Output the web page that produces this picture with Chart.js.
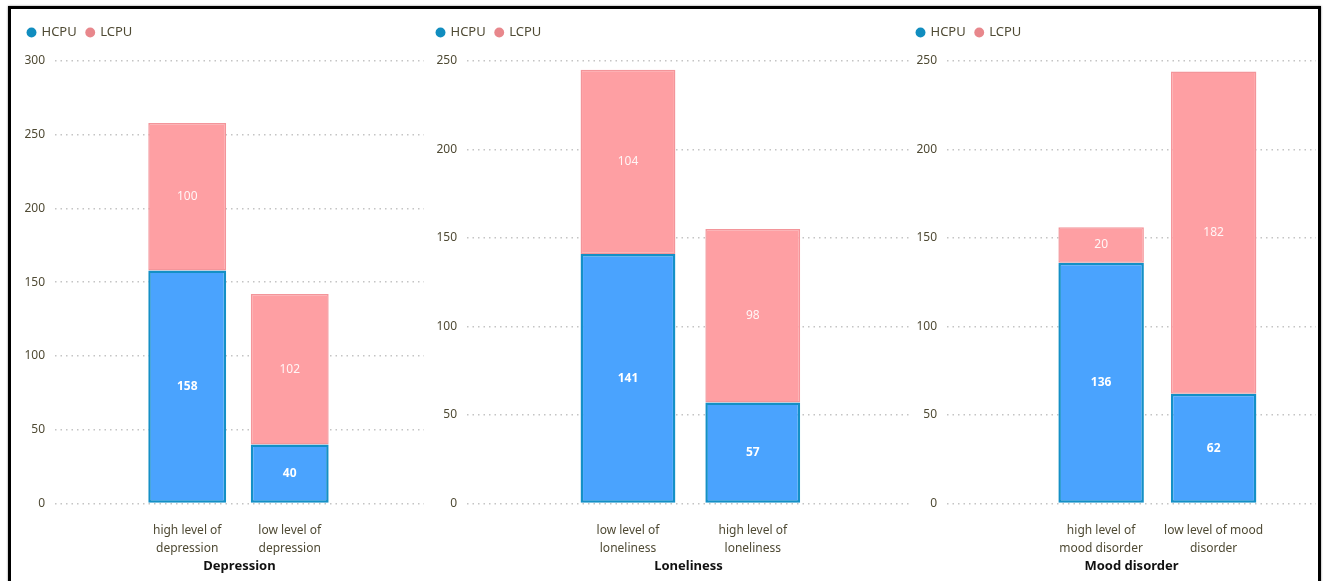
<!DOCTYPE html>
<html>
<head>
<meta charset="utf-8">
<script src="https://cdn.jsdelivr.net/npm/chart.js@4.4.1/dist/chart.umd.min.js"></script>
<style>
    body { margin: 0; background: #fff; width: 1325px; height: 581px; overflow: hidden; position: relative; }
    #frame { position: absolute; left: 8px; top: 6px; width: 1307px; height: 600px; border: 3px solid #000; box-shadow: 0 0 2px #888; }
    .panel { position: absolute; top: 12px; height: 569px; }
    #p1 { left: 18px; width: 408px; }
    #p2 { left: 427px; width: 485px; }
    #p3 { left: 907px; width: 411px; }
</style>
</head>
<body>
<div id="frame"></div>
<div class="panel" id="p1"><canvas id="chart1"></canvas></div>
<div class="panel" id="p2"><canvas id="chart2"></canvas></div>
<div class="panel" id="p3"><canvas id="chart3"></canvas></div>
<script>
const seriesNames = ['HCPU', 'LCPU'];

const depTitle = 'Depression';
const depCategories = [['high level of', 'depression'], ['low level of', 'depression']];
const depHCPU = [158, 40];
const depLCPU = [100, 102];
const depTicks = [0, 50, 100, 150, 200, 250, 300];

const lonTitle = 'Loneliness';
const lonCategories = [['low level of', 'loneliness'], ['high level of', 'loneliness']];
const lonHCPU = [141, 57];
const lonLCPU = [104, 98];
const lonTicks = [0, 50, 100, 150, 200, 250];

const moodTitle = 'Mood disorder';
const moodCategories = [['high level of', 'mood disorder'], ['low level of mood', 'disorder']];
const moodHCPU = [136, 62];
const moodLCPU = [20, 182];
const moodTicks = [0, 50, 100, 150, 200, 250];

const FONT = "'Noto Sans', 'DejaVu Sans', sans-serif";
const TEXT = '#4f4a34';

// draws the value in the middle of each stacked segment
const segmentLabels = {
    id: 'segmentLabels',
    afterDatasetsDraw(chart) {
        const ctx = chart.ctx;
        ctx.save();
        ctx.textAlign = 'center';
        ctx.textBaseline = 'middle';
        chart.data.datasets.forEach((ds, di) => {
            const meta = chart.getDatasetMeta(di);
            ctx.font = (di === 0 ? 'bold ' : '') + '12px ' + FONT;
            ctx.fillStyle = di === 0 ? '#ffffff' : 'rgba(255,255,255,0.9)';
            meta.data.forEach((bar, i) => {
                const p = bar.getProps(['x', 'y', 'base'], true);
                ctx.fillText(ds.data[i].y, p.x, (p.y + p.base) / 2);
            });
        });
        ctx.restore();
    }
};

// extra room between legend and plot
const legendGap = {
    id: 'legendGap',
    beforeInit(chart) {
        const fit = chart.legend.fit;
        chart.legend.fit = function () {
            fit.call(this);
            this.height += 12;
        };
    }
};

function makeChart(id, title, categories, hcpu, lcpu, ticks, xMin, xMax, yWidth) {
    const idx = categories.map((c, i) => i);
    new Chart(document.getElementById(id), {
        type: 'bar',
        data: {
            datasets: [{
                label: seriesNames[0],
                data: idx.map(i => ({ x: i, y: hcpu[i] })),
                backgroundColor: '#4aa3fe',
                borderColor: '#1490c6',
                borderWidth: 2.5,
                borderSkipped: false,
                barPercentage: 0.76,
                categoryPercentage: 1
            }, {
                label: seriesNames[1],
                data: idx.map(i => ({ x: i, y: lcpu[i] })),
                backgroundColor: '#fe9fa3',
                borderColor: '#f3959a',
                borderWidth: 1.5,
                borderSkipped: false,
                barPercentage: 0.76,
                categoryPercentage: 1
            }]
        },
        options: {
            responsive: true,
            maintainAspectRatio: false,
            animation: false,
            layout: { padding: { top: 4, right: 2, bottom: 0 } },
            plugins: {
                legend: {
                    align: 'start',
                    labels: {
                        usePointStyle: true,
                        pointStyle: 'circle',
                        boxWidth: 7,
                        boxHeight: 7,
                        padding: 10,
                        color: TEXT,
                        font: { family: FONT, size: 13 },
                        generateLabels: () => [
                            { text: seriesNames[0], fillStyle: '#118dbf', strokeStyle: '#118dbf', pointStyle: 'circle', lineWidth: 0, fontColor: TEXT },
                            { text: seriesNames[1], fillStyle: '#e8878c', strokeStyle: '#e8878c', pointStyle: 'circle', lineWidth: 0, fontColor: TEXT }
                        ]
                    }
                },
                tooltip: { enabled: false }
            },
            scales: {
                x: {
                    type: 'linear',
                    offset: false,
                    stacked: true,
                    min: xMin,
                    max: xMax,
                    afterBuildTicks: s => { s.ticks = idx.map(v => ({ value: v })); },
                    ticks: {
                        color: TEXT,
                        font: { family: FONT, size: 12, lineHeight: 1.5 },
                        padding: 10,
                        maxRotation: 0,
                        autoSkip: false,
                        callback: v => categories[v]
                    },
                    grid: { display: false },
                    border: { display: false },
                    title: {
                        display: true,
                        text: title,
                        color: '#111',
                        font: { family: FONT, size: 13, weight: 'bold' },
                        padding: { top: -9, bottom: 7 }
                    }
                },
                y: {
                    stacked: true,
                    min: 0,
                    max: ticks[ticks.length - 1],
                    afterBuildTicks: s => { s.ticks = ticks.map(v => ({ value: v })); },
                    afterFit: s => { s.width = yWidth; },
                    ticks: {
                        color: TEXT,
                        font: { family: FONT, size: 12 },
                        padding: 10
                    },
                    grid: {
                        color: '#c4c4c4',
                        lineWidth: 1.5,
                        drawTicks: false
                    },
                    border: { display: false, dash: [1.5, 4] }
                }
            }
        },
        plugins: [segmentLabels, legendGap]
    });
}

makeChart('chart1', depTitle, depCategories, depHCPU, depLCPU, depTicks, -1.29, 2.31, 37);
makeChart('chart2', lonTitle, lonCategories, lonHCPU, lonLCPU, lonTicks, -1.29, 2.26, 40);
makeChart('chart3', moodTitle, moodCategories, moodHCPU, moodLCPU, moodTicks, -1.37, 1.91, 40);
</script>
</body>
</html>
